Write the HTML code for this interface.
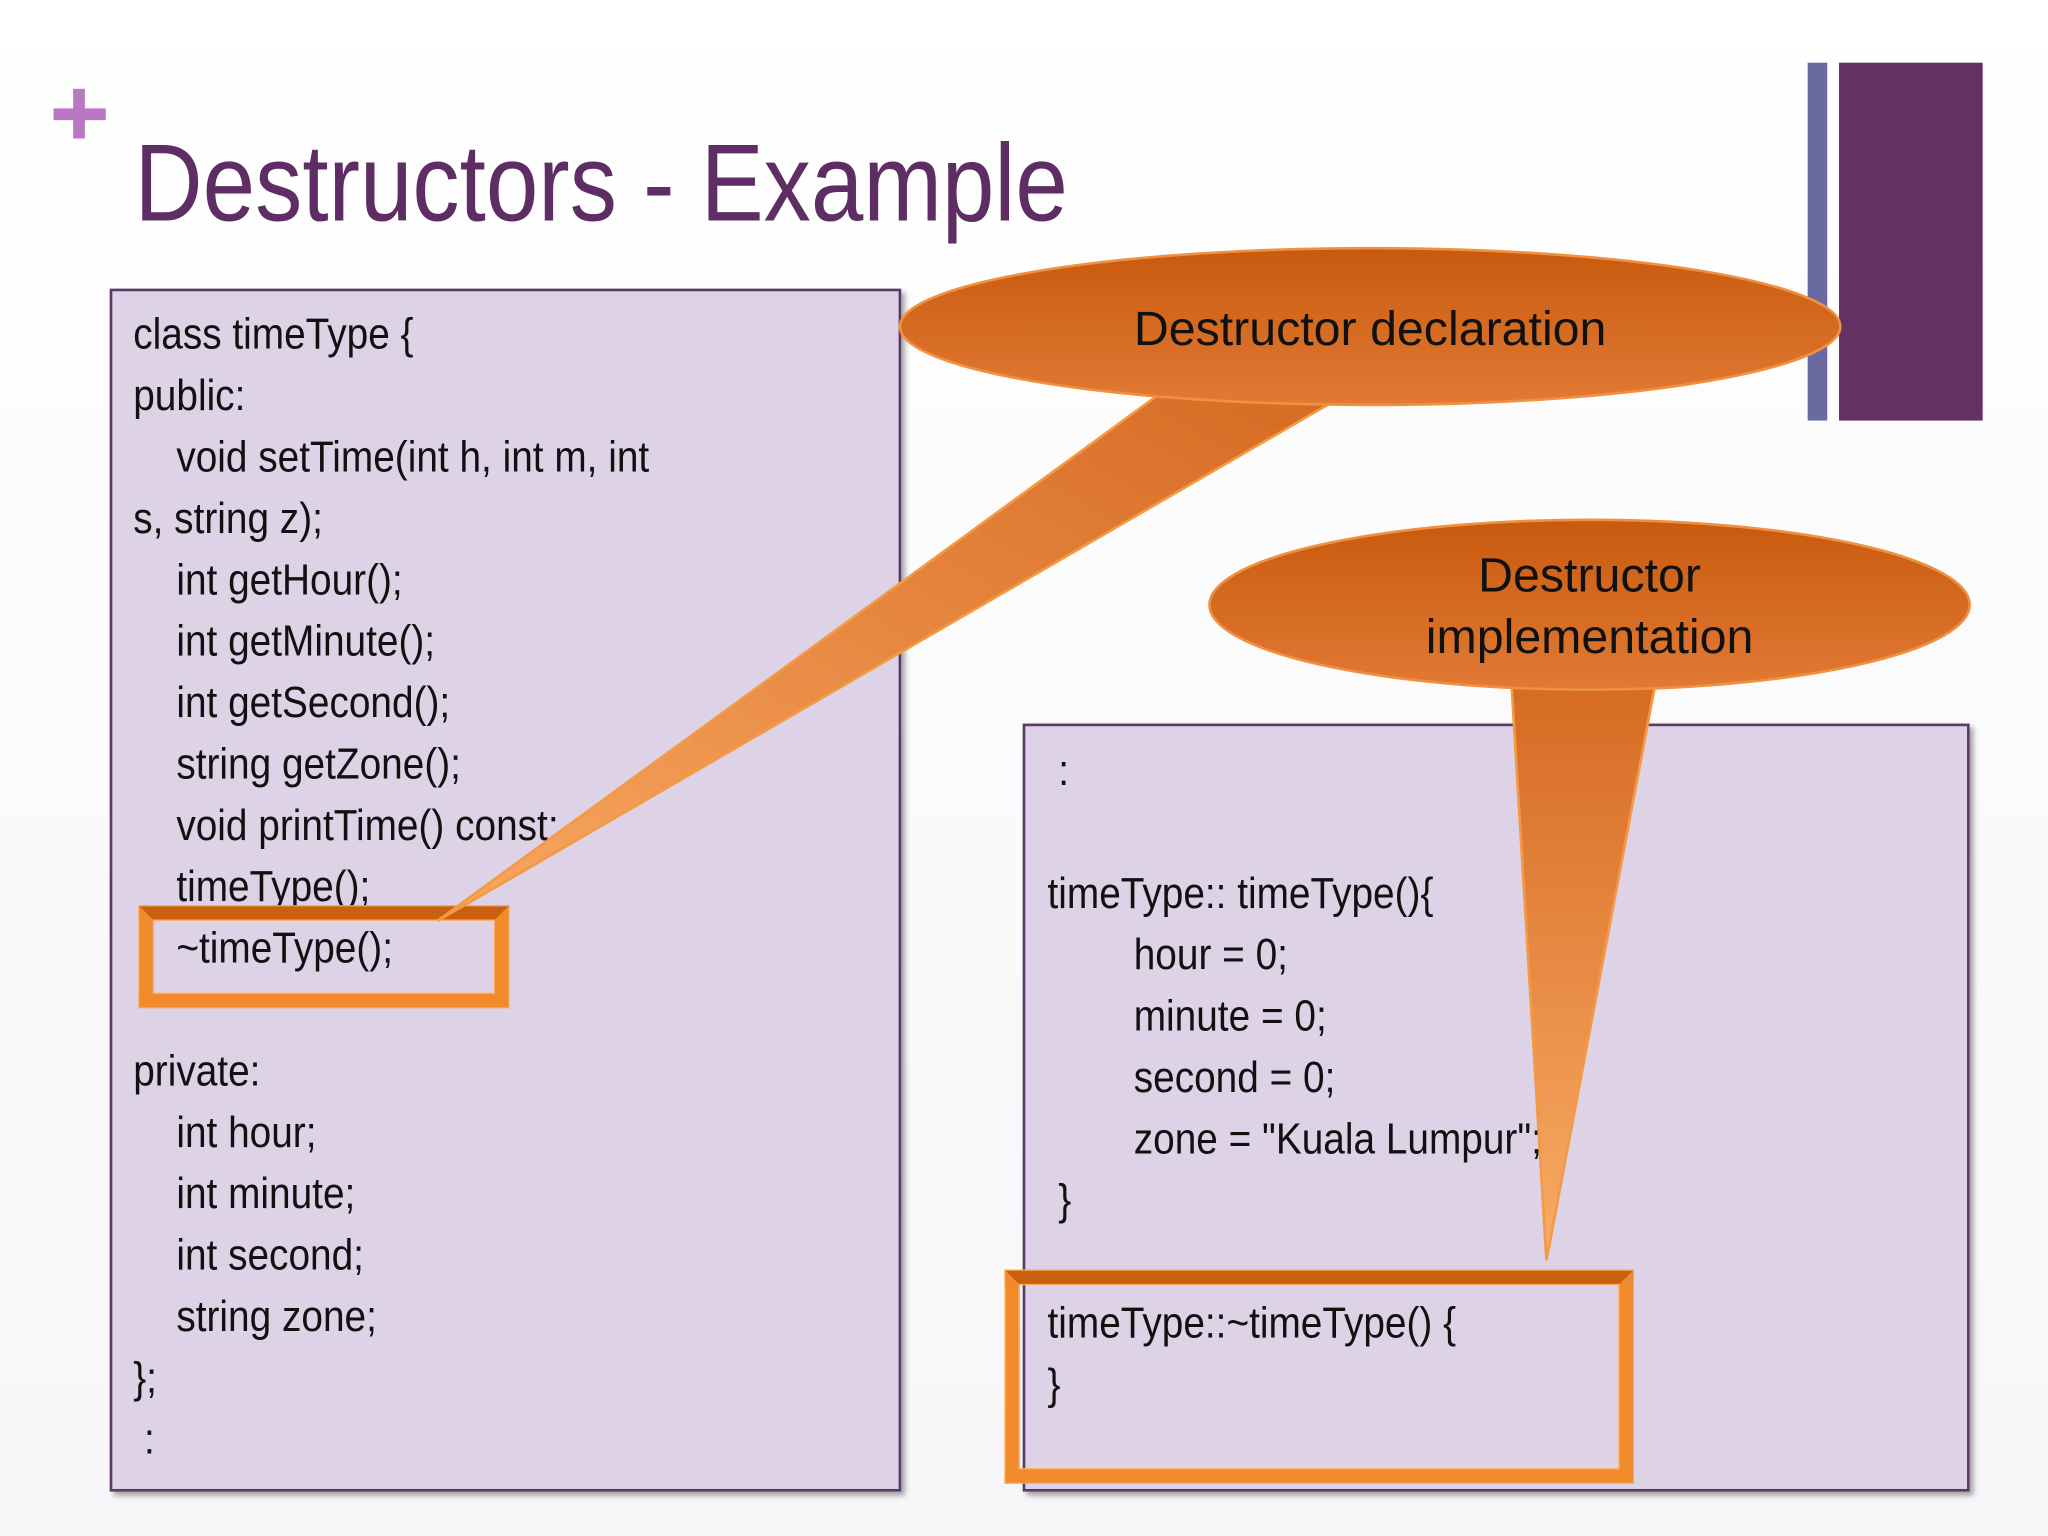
<!DOCTYPE html>
<html><head><meta charset="utf-8"><style>
html,body{margin:0;padding:0;background:#fff;}
body{width:2048px;height:1536px;overflow:hidden;position:relative;}
#s{position:absolute;left:0;top:0;width:1568px;height:1176px;transform:scale(1.306122);transform-origin:0 0;background:linear-gradient(180deg,#fff 0%,#f7f6f8 100%);}
.abs{position:absolute;}
.code{font-family:"Liberation Sans",sans-serif;font-size:33px;color:#111;white-space:nowrap;transform:scaleX(0.9);transform-origin:left top;line-height:47px;}
.box{position:absolute;background:#ddd2e6;border:2px solid #5a3a68;box-shadow:3px 3px 4px rgba(0,0,0,0.35);}
.hl{position:absolute;border:10px solid #f08a2a;border-top-color:#c9600f;background:transparent;box-shadow:inset 0 0 0 1px #ffb060, 0 0 0 1px #f7a24a;}
</style></head><body><div id="s">
<div class="abs" style="left:41px;top:83px;width:40px;height:9px;background:#b978c2"></div>
<div class="abs" style="left:56px;top:68px;width:9px;height:38px;background:#b978c2"></div>
<div class="abs" style="left:103px;top:92px;font-family:'Liberation Sans',sans-serif;font-size:84px;color:#5e2d63;white-space:nowrap;transform:scaleX(0.86);transform-origin:left top;">Destructors - Example</div>
<div class="abs" style="left:1384px;top:48px;width:15px;height:274px;background:#6a6aa0"></div>
<div class="abs" style="left:1408px;top:48px;width:110px;height:274px;background:#633262"></div>

<div class="box" style="left:84px;top:221px;width:602px;height:917px"></div>
<div class="box" style="left:783px;top:554px;width:721px;height:584px"></div>

<div class="abs code" style="left:102px;top:232px">class timeType {<br>public:<br>&nbsp;&nbsp;&nbsp;&nbsp;void setTime(int h, int m, int<br>s, string z);<br>&nbsp;&nbsp;&nbsp;&nbsp;int getHour();<br>&nbsp;&nbsp;&nbsp;&nbsp;int getMinute();<br>&nbsp;&nbsp;&nbsp;&nbsp;int getSecond();<br>&nbsp;&nbsp;&nbsp;&nbsp;string getZone();<br>&nbsp;&nbsp;&nbsp;&nbsp;void printTime() const;<br>&nbsp;&nbsp;&nbsp;&nbsp;timeType();<br>&nbsp;&nbsp;&nbsp;&nbsp;~timeType();<br><br>private:<br>&nbsp;&nbsp;&nbsp;&nbsp;int hour;<br>&nbsp;&nbsp;&nbsp;&nbsp;int minute;<br>&nbsp;&nbsp;&nbsp;&nbsp;int second;<br>&nbsp;&nbsp;&nbsp;&nbsp;string zone;<br>};<br>&nbsp;:</div>

<div class="abs code" style="left:802px;top:566px">&nbsp;:<br><br>timeType:: timeType(){<br>&nbsp;&nbsp;&nbsp;&nbsp;&nbsp;&nbsp;&nbsp;&nbsp;hour = 0;<br>&nbsp;&nbsp;&nbsp;&nbsp;&nbsp;&nbsp;&nbsp;&nbsp;minute = 0;<br>&nbsp;&nbsp;&nbsp;&nbsp;&nbsp;&nbsp;&nbsp;&nbsp;second = 0;<br>&nbsp;&nbsp;&nbsp;&nbsp;&nbsp;&nbsp;&nbsp;&nbsp;zone = "Kuala Lumpur";<br>&nbsp;}<br><br>timeType::~timeType() {<br>}</div>

<div class="hl" style="left:107px;top:694px;width:262px;height:57px"></div>
<div class="hl" style="left:770px;top:973px;width:460px;height:142px"></div>

<svg class="abs" style="left:0;top:0" width="1568" height="1176">
<defs>
<linearGradient id="g1" x1="0" y1="0" x2="0" y2="1"><stop offset="0" stop-color="#c85a0e"/><stop offset="1" stop-color="#e27a34"/></linearGradient>
<linearGradient id="t1" x1="1" y1="0" x2="0" y2="1"><stop offset="0" stop-color="#d66a22"/><stop offset="1" stop-color="#f9a862"/></linearGradient>
<linearGradient id="t2" x1="0" y1="0" x2="0" y2="1"><stop offset="0" stop-color="#d66a22"/><stop offset="1" stop-color="#f9ac66"/></linearGradient>
</defs>
<polygon points="890,300 1025,305 335,705" fill="url(#t1)" stroke="#f39a44" stroke-width="2"/>
<ellipse cx="1049" cy="250" rx="360" ry="60" fill="url(#g1)" stroke="#ef9140" stroke-width="2"/>
<polygon points="1157,520 1268,520 1184,965" fill="url(#t2)" stroke="#f39a44" stroke-width="2"/>
<ellipse cx="1217" cy="463" rx="291" ry="65" fill="url(#g1)" stroke="#ef9140" stroke-width="2"/>
<text x="1049" y="264" text-anchor="middle" font-family="Liberation Sans, sans-serif" font-size="37" fill="#111">Destructor declaration</text>
<text x="1217" y="453" text-anchor="middle" font-family="Liberation Sans, sans-serif" font-size="37" fill="#111">Destructor</text>
<text x="1217" y="500" text-anchor="middle" font-family="Liberation Sans, sans-serif" font-size="37" fill="#111">implementation</text>
</svg>
</div></body></html>
